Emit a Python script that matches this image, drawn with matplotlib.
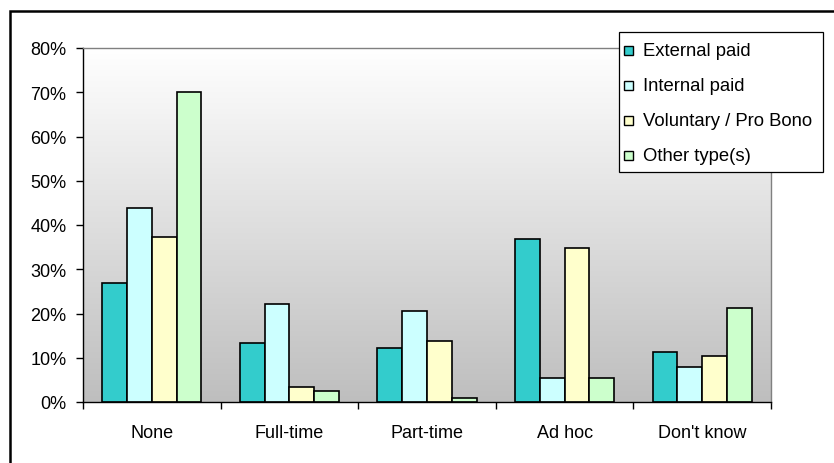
import matplotlib
matplotlib.use("Agg")
import matplotlib.pyplot as plt
import numpy as np
from matplotlib.patches import Rectangle
from matplotlib.colors import LinearSegmentedColormap

plt.rcParams['font.family'] = ['Liberation Sans', 'DejaVu Sans']

categories = ["None", "Full-time", "Part-time", "Ad hoc", "Don't know"]
series_names = ["External paid", "Internal paid", "Voluntary / Pro Bono", "Other type(s)"]
external_paid = [26.8, 13.3, 12.2, 36.8, 11.2]
internal_paid = [43.8, 22.1, 20.5, 5.4, 7.9]
voluntary = [37.2, 3.4, 13.7, 34.7, 10.5]
other_type = [70.0, 2.5, 0.8, 5.4, 21.3]
colors = ["#33CCCC", "#CCFFFF", "#FFFFCC", "#CCFFCC"]
yticks = [0, 10, 20, 30, 40, 50, 60, 70, 80]

W, H = 834, 464
fig = plt.figure(figsize=(W / 100, H / 100), dpi=100)
ax = fig.add_axes([83 / W, 1 - 403 / H, (771 - 83) / W, (403 - 49) / H])

# gradient background
grad = np.linspace(0, 1, 256).reshape(-1, 1)
cmap = LinearSegmentedColormap.from_list("g", ["#FFFFFF", "#BEBEBE"])
ax.imshow(grad, extent=[0, 1, 0, 1], transform=ax.transAxes, cmap=cmap,
          aspect='auto', zorder=0, origin='upper')

data = [external_paid, internal_paid, voluntary, other_type]
x = np.arange(len(categories))
bw = 0.18
for i, (vals, name, c) in enumerate(zip(data, series_names, colors)):
    ax.bar(x + (i - 1.5) * bw, [v / 100 for v in vals], width=bw, color=c,
           edgecolor="black", linewidth=1.2, label=name, zorder=2)

ax.set_xlim(-0.5, len(categories) - 0.5)
ax.set_ylim(0, 0.8)
ax.set_yticks([t / 100 for t in yticks])
ax.set_yticklabels([f"{t}%" for t in yticks], fontsize=13)
ax.set_xticks(x)
ax.set_xticklabels(categories, fontsize=13)
ax.set_xticks(np.arange(len(categories) + 1) - 0.5, minor=True)
ax.tick_params(axis='x', which='major', length=0, pad=16)
ax.tick_params(axis='x', which='minor', length=5, width=1, direction='out', color='black')
ax.tick_params(axis='y', length=5, width=1, direction='out', pad=7)

for s in ['top', 'right']:
    ax.spines[s].set_color('#808080')
    ax.spines[s].set_linewidth(1)
for s in ['left', 'bottom']:
    ax.spines[s].set_color('black')
    ax.spines[s].set_linewidth(1)

# legend drawn manually (figure pixel coordinates -> fraction)
def fx(px):
    return px / W

def fy(py):
    return 1 - py / H

fig.patches.append(Rectangle((fx(619), fy(173)), fx(823) - fx(619), fy(33) - fy(173),
                             transform=fig.transFigure, facecolor='white',
                             edgecolor='black', linewidth=0.9, zorder=10))
for k, (name, c) in enumerate(zip(series_names, colors)):
    yc = 51.5 + 35 * k
    fig.patches.append(Rectangle((fx(624), fy(yc + 4.5)), fx(633) - fx(624), fy(yc - 4.5) - fy(yc + 4.5),
                                 transform=fig.transFigure, facecolor=c,
                                 edgecolor='black', linewidth=1.0, zorder=11))
    fig.text(fx(643), fy(yc), name, fontsize=13.3, va='center', ha='left', zorder=12)

# outer chart frame
fig.patches.append(Rectangle((10 / W, -0.1), 1.0, 1 - 12 / H + 0.1,
                             transform=fig.transFigure, fill=False,
                             edgecolor='black', linewidth=1.8))

fig.savefig("out.png", dpi=100)
